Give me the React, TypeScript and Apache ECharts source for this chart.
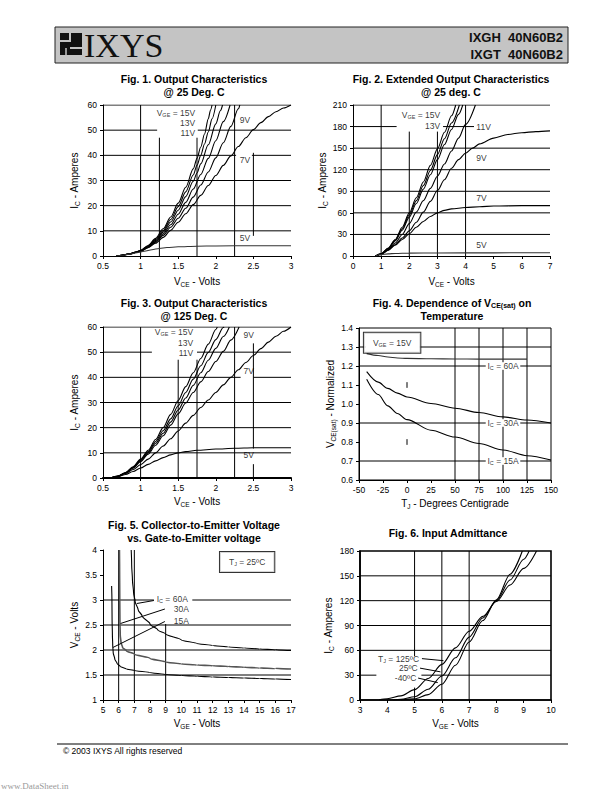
import React, { useEffect, useRef } from "react";
import * as echarts from "echarts";

type Pt = [number, number];
type Seg = [number, number, number]; // [level, from, to]

// ---------------- Fig. 1  Output Characteristics @ 25 Deg. C  (VCE V, IC A)
const fig1_15V: Pt[] = [[0.68,0],[0.75,0.3],[0.85,0.9],[0.95,1.7],[1.0,2.3],[1.1,4.2],[1.2,7.0],[1.3,10.8],[1.4,15.5],[1.5,21],[1.6,27.3],[1.7,34.6],[1.75,38.8],[1.8,43.3],[1.85,48.5],[1.9,54.5],[1.93,58],[1.95,60]];
const fig1_13V: Pt[] = [[0.68,0],[0.75,0.3],[0.85,0.9],[0.95,1.7],[1.0,2.2],[1.1,4.0],[1.2,6.6],[1.3,10.1],[1.4,14.5],[1.5,19.6],[1.6,25.5],[1.7,32.2],[1.75,36],[1.8,40],[1.85,44.5],[1.9,49.3],[1.95,54.5],[2.0,60]];
const fig1_11V: Pt[] = [[0.68,0],[0.75,0.3],[0.85,0.85],[0.95,1.6],[1.0,2.1],[1.1,3.8],[1.2,6.2],[1.3,9.5],[1.4,13.5],[1.5,18.2],[1.6,23.6],[1.7,29.7],[1.75,33],[1.8,36.6],[1.9,44.2],[2.0,52.5],[2.06,57.7],[2.09,60]];
const fig1_curveD: Pt[] = [[0.68,0],[0.75,0.3],[0.85,0.8],[0.95,1.5],[1.0,2.0],[1.1,3.6],[1.2,5.8],[1.3,8.8],[1.4,12.4],[1.5,16.6],[1.6,21.3],[1.7,26.6],[1.8,32.4],[1.9,38.8],[2.0,45.8],[2.1,53.4],[2.19,60]];
const fig1_9V: Pt[] = [[0.68,0],[0.75,0.3],[0.85,0.8],[0.95,1.5],[1.0,1.9],[1.1,3.4],[1.2,5.5],[1.3,8.2],[1.4,11.4],[1.5,15],[1.6,19],[1.7,23.4],[1.8,28.2],[1.9,33.4],[2.0,39],[2.1,45],[2.2,51.5],[2.3,58.5],[2.32,60]];
const fig1_7V: Pt[] = [[0.68,0],[0.75,0.3],[0.85,0.8],[0.95,1.5],[1.0,1.9],[1.1,3.3],[1.2,5.1],[1.3,7.4],[1.4,10.2],[1.5,13.4],[1.6,16.8],[1.7,20.4],[1.8,24.1],[1.9,28],[2.0,32],[2.1,36],[2.2,39.8],[2.3,43.5],[2.4,47],[2.5,50.2],[2.6,53],[2.7,55.4],[2.8,57.3],[2.9,58.8],[3.0,60]];
const fig1_5V: Pt[] = [[0.68,0],[0.75,0.3],[0.85,0.75],[0.95,1.3],[1.05,1.9],[1.15,2.5],[1.25,3.0],[1.35,3.35],[1.5,3.65],[1.75,3.9],[2.0,4.0],[2.5,4.1],[3.0,4.1]];

// ---------------- Fig. 2  Extended Output Characteristics @ 25 deg. C
const fig2_15V: Pt[] = [[0.8,0],[1,3],[1.25,11],[1.5,23],[1.75,40],[2,60],[2.25,81],[2.5,103],[2.75,126],[3,149],[3.25,172],[3.5,195],[3.65,210]];
const fig2_13V: Pt[] = [[0.8,0],[1,3],[1.25,10.5],[1.5,22],[1.75,38],[2,57],[2.25,77],[2.5,98],[2.75,119],[3,141],[3.25,163],[3.5,185],[3.78,210]];
const fig2_curveC: Pt[] = [[0.8,0],[1,3],[1.25,10],[1.5,21],[1.75,36],[2,54],[2.25,73],[2.5,93],[2.75,113],[3,134],[3.25,155],[3.5,176],[3.75,197],[3.9,210]];
const fig2_11V: Pt[] = [[0.8,0],[1,2.5],[1.25,9],[1.5,18],[1.75,30],[2,45],[2.25,61],[2.5,77],[2.75,94],[3,111],[3.25,128],[3.5,146],[3.75,164],[4,183],[4.35,210]];
const fig2_9V: Pt[] = [[0.8,0],[1,2.5],[1.25,8],[1.5,16],[1.75,25],[2,35],[2.25,47],[2.5,61],[2.75,76],[3,91],[3.25,106],[3.5,122],[3.75,134],[4,143],[4.25,150],[4.5,156],[5,164],[5.5,169],[6,171.5],[6.5,173],[7,174]];
const fig2_7V: Pt[] = [[0.8,0],[1,2.5],[1.25,8],[1.5,15],[1.75,23],[2,31],[2.25,40],[2.5,48],[2.75,55],[3,60],[3.25,63.5],[3.5,65.5],[4,67.5],[4.5,68.5],[5,69.5],[6,70],[7,70]];
const fig2_5V: Pt[] = [[0.8,0],[1,2],[1.25,3],[1.5,3.5],[2,4],[3,4.2],[5,4.4],[7,4.5]];

// ---------------- Fig. 3  Output Characteristics @ 125 Deg. C
const fig3_15V: Pt[] = [[0.6,0],[0.7,0.8],[0.8,2.2],[0.9,4.5],[1,7.5],[1.1,11],[1.2,15.3],[1.3,20],[1.4,25.3],[1.5,30.8],[1.6,36.3],[1.7,41.8],[1.8,47.5],[1.9,53.2],[2,59],[2.02,60]];
const fig3_13V: Pt[] = [[0.6,0],[0.7,0.8],[0.8,2.1],[0.9,4.3],[1,7.2],[1.1,10.5],[1.2,14.5],[1.3,18.8],[1.4,23.5],[1.5,28.7],[1.6,34],[1.7,39.3],[1.8,44.6],[1.9,49.9],[2,55],[2.1,59.8],[2.11,60]];
const fig3_11V: Pt[] = [[0.6,0],[0.7,0.8],[0.8,2],[0.9,4.1],[1,6.9],[1.1,10],[1.2,13.8],[1.3,17.8],[1.4,22.2],[1.5,27],[1.6,31.8],[1.7,36.8],[1.8,41.8],[1.9,46.8],[2,51.5],[2.1,56.2],[2.18,60]];
const fig3_9V: Pt[] = [[0.6,0],[0.7,0.7],[0.8,1.9],[0.9,3.9],[1,6.5],[1.1,9.5],[1.2,13],[1.3,16.8],[1.4,21],[1.5,25.5],[1.6,29.8],[1.7,34],[1.8,38.2],[1.9,42.3],[2,46.3],[2.1,50.3],[2.2,54.8],[2.31,60]];
const fig3_7V: Pt[] = [[0.6,0],[0.7,0.6],[0.8,1.8],[0.9,3.4],[1,5.3],[1.1,7.5],[1.2,10],[1.3,12.7],[1.4,15.6],[1.5,18.7],[1.6,21.8],[1.7,24.9],[1.8,28],[1.9,31],[2,34],[2.1,37],[2.2,40],[2.3,43],[2.4,45.9],[2.5,48.7],[2.6,51.4],[2.7,54],[2.8,56.3],[2.9,58.3],[3,60]];
const fig3_5V: Pt[] = [[0.6,0],[0.7,0.6],[0.8,1.4],[0.9,2.6],[1,4],[1.1,5.4],[1.2,6.8],[1.3,8.1],[1.4,9.2],[1.5,10],[1.6,10.5],[1.75,11],[2,11.5],[2.25,11.8],[2.5,12],[3,12]];

// ---------------- Fig. 4  VCE(sat) normalized vs TJ (°C)
const fig4_60A: Pt[] = [[-42,1.265],[-30,1.255],[-20,1.247],[-10,1.242],[0,1.24],[25,1.238],[50,1.237],[75,1.236],[100,1.236],[125,1.236]];
const fig4_30A: Pt[] = [[-42,1.17],[-30,1.115],[-20,1.082],[-10,1.057],[0,1.037],[25,1.003],[50,0.978],[75,0.955],[100,0.932],[125,0.916],[150,0.9]];
const fig4_15A: Pt[] = [[-42,1.13],[-30,1.05],[-20,0.99],[-10,0.95],[0,0.918],[25,0.862],[50,0.826],[75,0.792],[100,0.758],[125,0.728],[150,0.705]];

// ---------------- Fig. 5  VCE vs VGE (V)
const fig5_60A: Pt[] = [[6.8,4.0],[6.83,3.7],[6.88,3.4],[6.95,3.15],[7.05,2.97],[7.25,2.8],[7.5,2.68],[8,2.52],[8.5,2.4],[9,2.32],[10,2.2],[11,2.13],[12,2.09],[13,2.06],[14,2.04],[15,2.02],[16,2.005],[17,1.99]];
const fig5_30A: Pt[] = [[6.05,4.0],[6.06,3.5],[6.07,3.0],[6.08,2.6],[6.1,2.3],[6.15,2.15],[6.25,2.05],[6.5,1.98],[7,1.92],[8,1.83],[9,1.76],[10,1.72],[11,1.7],[12,1.685],[13,1.67],[14,1.655],[15,1.64],[16,1.63],[17,1.62]];
const fig5_15A: Pt[] = [[5.55,3.28],[5.57,3.0],[5.58,2.6],[5.6,2.3],[5.62,2.1],[5.65,1.95],[5.75,1.82],[5.9,1.73],[6.1,1.67],[6.5,1.62],[7,1.59],[8,1.55],[9,1.51],[10,1.49],[11,1.475],[12,1.46],[13,1.45],[14,1.44],[15,1.43],[16,1.42],[17,1.41]];
const fig5_leader60A: Pt[] = [[7.16,2.93],[8.25,2.99]];
const fig5_leader30A: Pt[] = [[6.12,2.53],[8.95,2.82]];
const fig5_leader15A: Pt[] = [[5.63,2.05],[8.95,2.57]];

// ---------------- Fig. 6  Input admittance: IC (A) vs VGE (V)
const fig6_125C: Pt[] = [[3.7,0.3],[4,1.5],[4.5,5],[5,12.5],[5.5,26],[6,43],[6.5,63],[7,83],[7.5,101],[8,119],[8.5,139],[9,159],[9.47,180]];
const fig6_25C: Pt[] = [[4.2,0],[4.5,0.7],[5,4],[5.5,13],[6,29],[6.5,51],[7,76],[7.5,99],[8,120],[8.5,145],[9,170],[9.2,180]];
const fig6_m40C: Pt[] = [[4.5,0],[5,1.5],[5.5,6.5],[6,19],[6.5,42],[7,70],[7.5,96],[8,121],[8.5,152],[8.95,180]];
const fig6_leader125: Pt[] = [[5.27,50],[6.06,47.5]];
const fig6_leader25: Pt[] = [[5.2,38.5],[5.95,34]];
const fig6_leaderm40: Pt[] = [[5.13,26.5],[5.85,21]];

// ---------------- grid lines per figure: [value, from, to]
const fig1H: Seg[] = [[60,0.5,3],[50,0.5,1.22],[50,1.76,3],[40,0.5,2.27],[40,2.48,3],[30,0.5,3],[20,0.5,3],[10,0.5,3]];
const fig1V: Seg[] = [[1,0,60],[1.25,0,47],[1.75,0,47],[2.25,0,60],[2.5,8,41]];
const fig2H: Seg[] = [[210,0,7],[180,0,1.55],[180,3.2,4.3],[150,0,7],[120,0,7],[90,0,7],[60,0,7],[30,0,7]];
const fig2V: Seg[] = [[1,0,210],[2,0,173],[3,0,173],[4,0,210]];
const fig3H: Seg[] = [[60,0.5,3],[50,0.5,1.15],[50,1.75,3],[40,0.5,2.33],[40,2.5,3],[30,0.5,3],[20,0.5,3],[10,0.5,3]];
const fig3V: Seg[] = [[1,0,60],[1.5,0,47],[1.75,0,47],[2.25,0,60],[2.5,0,5.5],[2.5,11.7,53.5]];
const fig4H: Seg[] = [[1.3,-50,-43],[1.3,13,150],[1.2,-50,82],[1.2,118,150],[0.9,-50,82],[0.9,118,150],[0.7,-50,82],[0.7,118,150]];
const fig4V: Seg[] = [[50,0.6,1.4],[75,0.6,1.4],[100,0.6,0.68],[100,0.72,0.88],[100,0.92,1.18],[100,1.22,1.4],[125,0.6,1.4],[0,1.085,1.115],[0,0.785,0.815]];
const fig5H: Seg[] = [[3,5,8.25],[3,10.7,17],[2.5,5,17],[2,5,17],[1.5,5,17]];
const fig5V: Seg[] = [[6,1,4],[7,1,4],[9,1,2.52]];
const fig6H: Seg[] = [[150,3,10],[120,3,10],[90,3,10],[60,3,10],[30,3,3.6],[30,5.25,10]];
const fig6V: Seg[] = [[5,0,15],[5,53,180],[6,0,180],[7,0,180]];

// ---------------- in-plot annotations
type Ann = { text: string; at: Pt; pos: "left" | "right" | "inside"; box?: boolean };
const fig1Ann: Ann[] = [
  { text: "{m|V}{s|GE}{m| = 15V}", at: [1.745, 56.8], pos: "left" },
  { text: "{m|13V}", at: [1.745, 52.8], pos: "left" },
  { text: "{m|11V}", at: [1.745, 48.9], pos: "left" },
  { text: "{m|9V}", at: [2.3, 54], pos: "right" },
  { text: "{m|7V}", at: [2.3, 38], pos: "right" },
  { text: "{m|5V}", at: [2.3, 7], pos: "right" },
];
const fig2Ann: Ann[] = [
  { text: "{m|V}{s|GE}{m| = 15V}", at: [3.15, 196], pos: "left" },
  { text: "{m|13V}", at: [3.15, 181], pos: "left" },
  { text: "{m|11V}", at: [4.33, 180], pos: "right" },
  { text: "{m|9V}", at: [4.33, 136], pos: "right" },
  { text: "{m|7V}", at: [4.33, 81], pos: "right" },
  { text: "{m|5V}", at: [4.33, 15], pos: "right" },
];
const fig3Ann: Ann[] = [
  { text: "{m|V}{s|GE}{m| = 15V}", at: [1.72, 58], pos: "left" },
  { text: "{m|13V}", at: [1.72, 53.8], pos: "left" },
  { text: "{m|11V}", at: [1.72, 49.7], pos: "left" },
  { text: "{m|9V}", at: [2.35, 56.7], pos: "right" },
  { text: "{m|7V}", at: [2.35, 42.5], pos: "right" },
  { text: "{m|5V}", at: [2.35, 9], pos: "right" },
];
const fig4Ann: Ann[] = [
  { text: "{m|V}{s|GE}{m| = 15V}", at: [-15.5, 1.323], pos: "inside", box: true },
  { text: "{m|I}{s|C}{m| = 60A}", at: [100, 1.2], pos: "inside" },
  { text: "{m|I}{s|C}{m| = 30A}", at: [100, 0.9], pos: "inside" },
  { text: "{m|I}{s|C}{m| = 15A}", at: [100, 0.7], pos: "inside" },
];
const fig5Ann: Ann[] = [
  { text: "{m|T}{s|J}{m| = 25ºC}", at: [14.2, 3.76], pos: "inside", box: true },
  { text: "{m|I}{s|C}{m| = 60A}", at: [8.33, 3.03], pos: "right" },
  { text: "{m|30A}", at: [9.42, 2.82], pos: "right" },
  { text: "{m|15A}", at: [9.42, 2.59], pos: "right" },
];
const fig6Ann: Ann[] = [
  { text: "{m|T}{s|J}{m| = 125ºC}", at: [5.22, 50], pos: "left" },
  { text: "{m|25ºC}", at: [5.17, 39], pos: "left" },
  { text: "{m|-40ºC}", at: [5.12, 27], pos: "left" },
];

const C = "#000";
const FONT = '"Liberation Sans", Arial, Helvetica, sans-serif';

const nameRich = {
  m: { fontFamily: FONT, fontSize: 10, color: C, lineHeight: 13 },
  s: { fontFamily: FONT, fontSize: 6.5, color: C, lineHeight: 8, verticalAlign: "bottom" },
};
const annRich = {
  m: { fontFamily: FONT, fontSize: 8.5, color: C, lineHeight: 10 },
  s: { fontFamily: FONT, fontSize: 5.5, color: C, lineHeight: 6, verticalAlign: "bottom" },
};
const titleRich = {
  b: { fontFamily: FONT, fontSize: 10.5, fontWeight: "bold", color: C, lineHeight: 13 },
  bs: { fontFamily: FONT, fontSize: 7, fontWeight: "bold", color: C, lineHeight: 8, verticalAlign: "bottom" },
};

const grids = [
  { left: 103, top: 105, width: 188, height: 151 },
  { left: 353, top: 105, width: 197, height: 151 },
  { left: 103, top: 327, width: 188, height: 151 },
  { left: 359, top: 328, width: 192, height: 152 },
  { left: 103, top: 550, width: 188, height: 150 },
  { left: 360, top: 551, width: 191, height: 149 },
];

function xAx(i: number, min: number, max: number, interval: number, name: string, gap: number, width = 1) {
  return {
    type: "value", gridIndex: i, min, max, interval,
    name, nameLocation: "middle", nameGap: gap,
    nameTextStyle: { rich: nameRich, fontFamily: FONT, fontSize: 10, color: C },
    axisLine: { show: true, onZero: false, lineStyle: { color: C, width } },
    axisTick: { show: true, length: 3, inside: false, lineStyle: { color: C } },
    axisLabel: { color: C, fontSize: 8.5, fontFamily: FONT, margin: 5 },
    splitLine: { show: false },
  };
}
function yAx(i: number, min: number, max: number, interval: number, name: string, gap: number, fmt?: (v: number) => string, width = 1) {
  return {
    type: "value", gridIndex: i, min, max, interval,
    name, nameLocation: "middle", nameGap: gap, nameRotate: 90,
    nameTextStyle: { rich: nameRich, fontFamily: FONT, fontSize: 10, color: C },
    axisLine: { show: true, onZero: false, lineStyle: { color: C, width } },
    axisTick: { show: true, length: 3, inside: false, lineStyle: { color: C } },
    axisLabel: { color: C, fontSize: 8.5, fontFamily: FONT, margin: 6, formatter: fmt },
    splitLine: { show: false },
  };
}

function seg(i: number, data: Pt[], width = 1, z = 2) {
  return {
    type: "line", xAxisIndex: i, yAxisIndex: i, data, symbol: "none", silent: true,
    lineStyle: { color: C, width }, z, animation: false,
  };
}
function gridSeries(i: number, h: Seg[], v: Seg[]) {
  const out: any[] = [];
  h.forEach(([y, a, b]) => out.push(seg(i, [[a, y], [b, y]])));
  v.forEach(([x, a, b]) => out.push(seg(i, [[x, a], [x, b]])));
  return out;
}
function curve(i: number, name: string, data: Pt[], mono: "x" | "y" = "x", color = "#000", width = 1.1) {
  return {
    type: "line", name, xAxisIndex: i, yAxisIndex: i, data, symbol: "none", silent: true,
    smooth: 0.3, smoothMonotone: mono, lineStyle: { color, width }, z: 3, animation: false,
  };
}
function annSeries(i: number, anns: Ann[]) {
  return {
    type: "scatter", xAxisIndex: i, yAxisIndex: i, symbolSize: 1, silent: true, z: 4,
    itemStyle: { color: "rgba(0,0,0,0)" },
    data: anns.map((a) => ({
      value: a.at,
      label: {
        show: true, position: a.pos, distance: 0, formatter: a.text, rich: annRich,
        backgroundColor: a.box ? "#fff" : "transparent",
        borderColor: a.box ? "#000" : "transparent", borderWidth: a.box ? 1 : 0,
        padding: a.box ? [5, 9, 5, 9] : [0, 1, 0, 1],
      },
    })),
  };
}

const VCE = "{m|V}{s|CE}{m| - Volts}";
const VGE = "{m|V}{s|GE}{m| - Volts}";
const IC = "{m|I}{s|C}{m| - Amperes}";

const titles: { x: number; y: number; text: string }[] = [
  { x: 194, y: 85, text: "{b|Fig. 1. Output Characteristics}\n{b|@ 25 Deg. C}" },
  { x: 451, y: 85, text: "{b|Fig. 2. Extended Output Characteristics}\n{b|@ 25 deg. C}" },
  { x: 194, y: 309, text: "{b|Fig. 3. Output Characteristics}\n{b|@ 125 Deg. C}" },
  { x: 452, y: 309, text: "{b|Fig. 4. Dependence of V}{bs|CE(sat)}{b| on}\n{b|Temperature}" },
  { x: 194, y: 531, text: "{b|Fig. 5. Collector-to-Emitter Voltage}\n{b|vs. Gate-to-Emitter voltage}" },
  { x: 448, y: 533, text: "{b|Fig. 6. Input Admittance}" },
];

export default function App() {
  const ref = useRef<HTMLDivElement>(null);
  useEffect(() => {
    if (!ref.current) return;
    const chart = echarts.init(ref.current, undefined, { renderer: "svg" });
    const series: any[] = [
      ...gridSeries(0, fig1H, fig1V),
      ...gridSeries(1, fig2H, fig2V),
      ...gridSeries(2, fig3H, fig3V),
      ...gridSeries(3, fig4H, fig4V),
      ...gridSeries(4, fig5H, fig5V),
      ...gridSeries(5, fig6H, fig6V),
      curve(0, "15V", fig1_15V), curve(0, "13V", fig1_13V), curve(0, "11V", fig1_11V), curve(0, "D", fig1_curveD),
      curve(0, "9V", fig1_9V), curve(0, "7V", fig1_7V), curve(0, "5V", fig1_5V, "x", "#333"),
      curve(1, "15V", fig2_15V), curve(1, "13V", fig2_13V), curve(1, "C", fig2_curveC), curve(1, "11V", fig2_11V),
      curve(1, "9V", fig2_9V), curve(1, "7V", fig2_7V), curve(1, "5V", fig2_5V, "x", "#333"),
      curve(2, "15V", fig3_15V), curve(2, "13V", fig3_13V), curve(2, "11V", fig3_11V),
      curve(2, "9V", fig3_9V), curve(2, "7V", fig3_7V), curve(2, "5V", fig3_5V),
      curve(3, "60A", fig4_60A, "x", "#333"), curve(3, "30A", fig4_30A), curve(3, "15A", fig4_15A),
      curve(4, "60A", fig5_60A, "y"), curve(4, "30A", fig5_30A, "y", "#555", 1.6), curve(4, "15A", fig5_15A, "y"),
      seg(4, fig5_leader60A, 1, 3), seg(4, fig5_leader30A, 1, 3), seg(4, fig5_leader15A, 1, 3),
      curve(5, "125C", fig6_125C), curve(5, "25C", fig6_25C), curve(5, "-40C", fig6_m40C),
      seg(5, fig6_leader125, 1, 3), seg(5, fig6_leader25, 1, 3), seg(5, fig6_leaderm40, 1, 3),
      annSeries(0, fig1Ann), annSeries(1, fig2Ann), annSeries(2, fig3Ann),
      annSeries(3, fig4Ann), annSeries(4, fig5Ann), annSeries(5, fig6Ann),
    ];
    const option: any = {
      animation: false,
      backgroundColor: "#fff",
      grid: grids.map((g, i) => ({
        ...g,
        show: i === 3 || i === 5,
        borderColor: C,
        borderWidth: i === 5 ? 1.6 : 1,
        containLabel: false,
      })),
      xAxis: [
        xAx(0, 0.5, 3, 0.5, VCE, 19),
        xAx(1, 0, 7, 1, VCE, 19),
        xAx(2, 0.5, 3, 0.5, VCE, 17, 2),
        xAx(3, -50, 150, 25, "{m|T}{s|J}{m| - Degrees Centigrade}", 17),
        xAx(4, 5, 17, 1, VGE, 17),
        xAx(5, 3, 10, 1, VGE, 17, 1.6),
      ],
      yAxis: [
        yAx(0, 0, 60, 10, IC, 22),
        yAx(1, 0, 210, 30, IC, 19),
        yAx(2, 0, 60, 10, IC, 22),
        yAx(3, 0.6, 1.4, 0.1, "{m|V}{s|CE(sat)}{m| - Normalized}", 22, (v: number) => v.toFixed(1)),
        yAx(4, 1, 4, 0.5, VCE, 22),
        yAx(5, 0, 180, 30, IC, 25, undefined, 1.6),
      ],
      series,
      graphic: [
        { type: "rect", shape: { x: 55, y: 27, width: 513, height: 36 }, style: { fill: "#c4c4c4", stroke: "#222", lineWidth: 1 } },
        { type: "rect", shape: { x: 60, y: 33, width: 22, height: 22 }, style: { fill: "#111" } },
        { type: "polyline", shape: { points: [[60, 41], [70, 41], [70, 33]] }, style: { stroke: "#c4c4c4", lineWidth: 2, fill: null } },
        { type: "polyline", shape: { points: [[70, 48], [82, 48]] }, style: { stroke: "#c4c4c4", lineWidth: 2, fill: null } },
        { type: "polyline", shape: { points: [[66, 48], [66, 55]] }, style: { stroke: "#c4c4c4", lineWidth: 1.5, fill: null } },
        { type: "text", x: 84, y: 45, style: { text: "IXYS", font: '34px "Liberation Serif", "DejaVu Serif", serif', fill: "#111", align: "left", verticalAlign: "middle", textAlign: "left", textVerticalAlign: "middle" } },
        { type: "text", x: 563, y: 37, style: { text: "IXGH  40N60B2", font: 'bold 13px "Liberation Sans", Arial, sans-serif', fill: "#111", align: "right", verticalAlign: "middle", textAlign: "right", textVerticalAlign: "middle" } },
        { type: "text", x: 563, y: 54, style: { text: "IXGT  40N60B2", font: 'bold 13px "Liberation Sans", Arial, sans-serif', fill: "#111", align: "right", verticalAlign: "middle", textAlign: "right", textVerticalAlign: "middle" } },
        ...titles.map((t) => ({
          type: "text", x: t.x, y: t.y,
          style: { text: t.text, rich: titleRich, font: `bold 10.5px ${FONT}`, fill: C, align: "center", verticalAlign: "middle", textAlign: "center", textVerticalAlign: "middle" },
        })),
        { type: "line", shape: { x1: 57, y1: 744, x2: 568, y2: 744 }, style: { stroke: "#000", lineWidth: 1 } },
        { type: "text", x: 63, y: 751, style: { text: "© 2003 IXYS All rights reserved", font: `8.5px ${FONT}`, fill: "#000", align: "left", verticalAlign: "middle", textAlign: "left", textVerticalAlign: "middle" } },
        { type: "text", x: 1, y: 786, style: { text: "www.DataSheet.in", font: '9px "Liberation Serif", serif', fill: "#9a9a9a", align: "left", verticalAlign: "middle", textAlign: "left", textVerticalAlign: "middle" } },
      ],
    };
    chart.setOption(option);
    return () => chart.dispose();
  }, []);
  return (
    <div
      ref={ref}
      style={{ position: "absolute", left: 0, top: 0, width: 595, height: 791, background: "#fff" }}
    />
  );
}
